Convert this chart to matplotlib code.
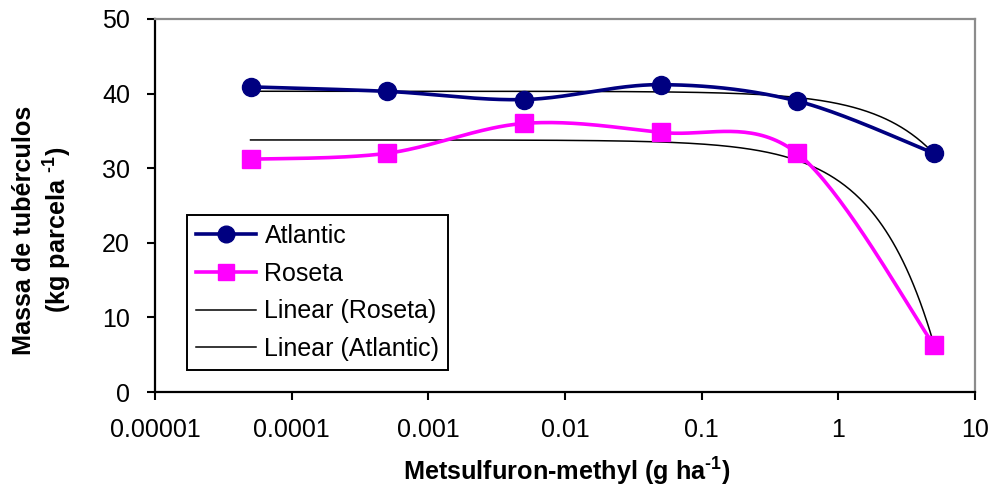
import numpy as np
import matplotlib
matplotlib.use("Agg")
import matplotlib.pyplot as plt
from matplotlib.lines import Line2D

plt.rcParams['font.family'] = ['Liberation Sans', 'DejaVu Sans']
plt.rcParams['mathtext.fontset'] = 'custom'
plt.rcParams['mathtext.rm'] = 'Liberation Sans'
plt.rcParams['mathtext.bf'] = 'Liberation Sans:bold'

# Doses (g ha-1) and tuber mass (kg per plot)
doses = [0.00005, 0.0005, 0.005, 0.05, 0.5, 5.0]
atlantic = [40.9, 40.3, 39.2, 41.2, 39.0, 32.0]
roseta = [31.2, 32.0, 36.0, 34.8, 32.0, 6.3]
x_ticks = [0.00001, 0.0001, 0.001, 0.01, 0.1, 1, 10]
x_tick_labels = ["0.00001", "0.0001", "0.001", "0.01", "0.1", "1", "10"]
y_ticks = [0, 10, 20, 30, 40, 50]


def smooth_curve(xs, ys, n=40):
    """Bezier smoothing through points in (log10 x, y) space."""
    lx = np.log10(np.asarray(xs, float))
    y = np.asarray(ys, float)
    pts = np.column_stack([lx, y])
    out = []
    m = len(pts)
    for i in range(m - 1):
        p0 = pts[max(i - 1, 0)]
        p1 = pts[i]
        p2 = pts[i + 1]
        p3 = pts[min(i + 2, m - 1)]
        c1 = p1 + (p2 - p0) / 6.0
        c2 = p2 - (p3 - p1) / 6.0
        t = np.linspace(0, 1, n)[:, None]
        seg = ((1 - t) ** 3) * p1 + 3 * ((1 - t) ** 2) * t * c1 + 3 * (1 - t) * t ** 2 * c2 + t ** 3 * p2
        out.append(seg if i == 0 else seg[1:])
    seg = np.vstack(out)
    return 10 ** seg[:, 0], seg[:, 1]


def linear_trend(xs, ys):
    slope, intercept = np.polyfit(np.asarray(xs, float), np.asarray(ys, float), 1)
    xx = np.logspace(np.log10(min(xs)), np.log10(max(xs)), 400)
    return xx, intercept + slope * xx


W, H = 993, 496
fig = plt.figure(figsize=(W / 100, H / 100), dpi=100)
ax = fig.add_axes([155 / W, 1 - 392 / H, 820 / W, 373 / H])

navy = '#000080'
magenta = '#FF00FF'

# trendlines
tx, ty = linear_trend(doses, roseta)
ax.plot(tx, ty, color='black', lw=1.1, zorder=2)
tx, ty = linear_trend(doses, atlantic)
ax.plot(tx, ty, color='black', lw=1.1, zorder=2)

# smoothed series
sx, sy = smooth_curve(doses, atlantic)
ax.plot(sx, sy, color=navy, lw=2.6, zorder=3)
ax.plot(doses, atlantic, ls='none', marker='o', ms=13, color=navy, zorder=4)
sx, sy = smooth_curve(doses, roseta)
ax.plot(sx, sy, color=magenta, lw=2.6, zorder=3)
ax.plot(doses, roseta, ls='none', marker='s', ms=13.5, color=magenta, zorder=4)

ax.set_xscale('log')
ax.set_xlim(0.00001, 10)
ax.set_ylim(0, 50)
ax.set_xticks(x_ticks)
ax.set_xticklabels(x_tick_labels)
ax.xaxis.set_minor_locator(matplotlib.ticker.NullLocator())
ax.set_yticks(y_ticks)
ax.tick_params(axis='both', direction='out', length=6, width=1.5, labelsize=18, colors='black')
ax.tick_params(axis='x', pad=13)
ax.tick_params(axis='y', pad=12)

for side in ['left', 'bottom']:
    ax.spines[side].set_linewidth(1.6)
    ax.spines[side].set_color('black')
for side in ['top', 'right']:
    ax.spines[side].set_linewidth(1.6)
    ax.spines[side].set_color('#8c8c8c')

sup = "$^{\\mathbf{\u20101}}$"
fig.text(567 / W, 1 - 472 / H, "Metsulfuron-methyl (g ha" + sup + ")", fontsize=18.2,
         fontweight='bold', ha='center', va='center')
fig.text(43 / W, 1 - 230 / H, "Massa de tubérculos\n(kg parcela " + sup + ")", fontsize=18.2,
         fontweight='bold', ha='center', va='center', rotation=90, linespacing=1.2, multialignment='center')

handles = [
    Line2D([], [], color=navy, lw=2.6, marker='o', ms=12),
    Line2D([], [], color=magenta, lw=2.6, marker='s', ms=12),
    Line2D([], [], color='black', lw=1.1),
    Line2D([], [], color='black', lw=1.1),
]
labels = ["Atlantic", "Roseta", "Linear (Roseta)", "Linear (Atlantic)"]
leg = ax.legend(handles, labels, loc='upper left', bbox_to_anchor=(0.039, 0.4745), fontsize=18,
                frameon=True, fancybox=False, edgecolor='black', framealpha=1, handlelength=2.4,
                handletextpad=0.35, labelspacing=0.55, borderpad=0.35, borderaxespad=0)
leg.get_frame().set_linewidth(1.4)

fig.savefig('out.png', dpi=100)
